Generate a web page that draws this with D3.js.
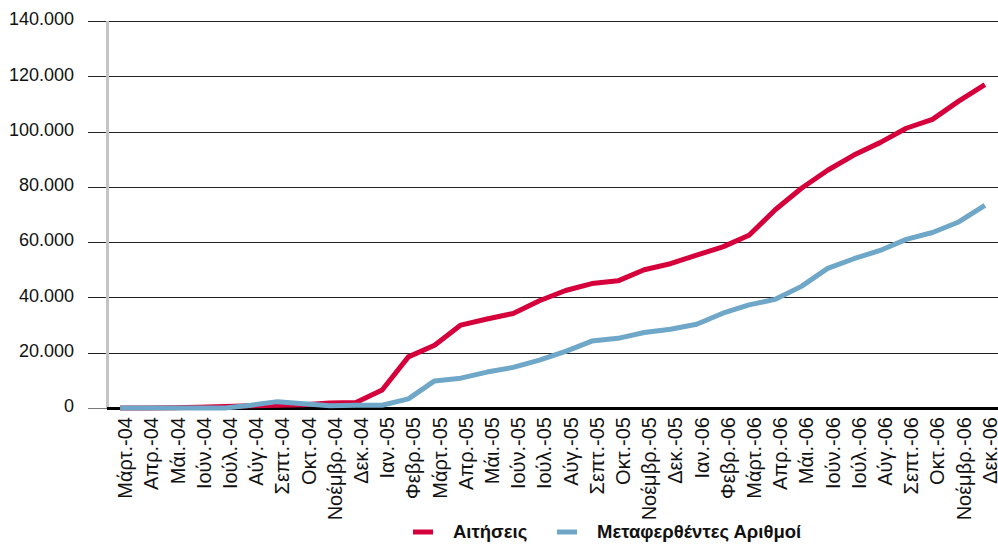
<!DOCTYPE html>
<html><head><meta charset="utf-8">
<script src="https://cdn.jsdelivr.net/npm/d3@7/dist/d3.min.js"></script>
<style>
html,body{margin:0;padding:0;background:#fff;}
svg text{font-family:"Liberation Sans Narrow","Arial Narrow","Liberation Sans",Arial,sans-serif;fill:#111;}
</style></head>
<body><svg id="c" width="998" height="547"></svg>
<script>
const categories = ["Μάρτ.-04","Απρ.-04","Μάι.-04","Ιούν.-04","Ιούλ.-04","Αύγ.-04","Σεπτ.-04","Οκτ.-04","Νοέμβρ.-04","Δεκ.-04",
"Ιαν.-05","Φεβρ.-05","Μάρτ.-05","Απρ.-05","Μάι.-05","Ιούν.-05","Ιούλ.-05","Αύγ.-05","Σεπτ.-05","Οκτ.-05","Νοέμβρ.-05","Δεκ.-05",
"Ιαν.-06","Φεβρ.-06","Μάρτ.-06","Απρ.-06","Μάι.-06","Ιούν.-06","Ιούλ.-06","Αύγ.-06","Σεπτ.-06","Οκτ.-06","Νοέμβρ.-06","Δεκ.-06"];
const requests = [0,0,100,300,500,800,1000,1200,1800,2000,
6500,18500,22700,30000,32200,34200,38800,42500,45000,46000,50000,52200,
55300,58300,62500,71700,79500,86000,91500,96000,101200,104400,111000,117000];
const transferred = [0,0,0,0,0,1000,2300,1500,800,1000,
1000,3300,9800,10800,13000,14700,17300,20500,24200,25200,27300,28500,
30300,34300,37300,39300,44000,50500,54000,57000,61000,63500,67300,73300];
const yTicks = [0,20000,40000,60000,80000,100000,120000,140000];
const tickLabels = ["0","20.000","40.000","60.000","80.000","100.000","120.000","140.000"];
const seriesNames = ["Αιτήσεις","Μεταφερθέντες Αριθμοί"];
const colors = ["#d5003b","#6fa7c8"];

const svg = d3.select("#c");
const x = d3.scaleBand().domain(categories).range([107, 998]);
const y = d3.scaleLinear().domain([0,140000]).range([408, 21]);
const cx = d => x(d) + x.bandwidth()/2;

// gridlines
svg.append("g").selectAll("line").data(yTicks).join("line")
  .attr("x1", 88).attr("x2", 998)
  .attr("y1", d => Math.round(y(d))+0.5).attr("y2", d => Math.round(y(d))+0.5)
  .attr("stroke", (d,i)=> i===0 ? "#777" : "#222").attr("stroke-width", 1);

// y tick labels
svg.append("g").selectAll("text").data(yTicks).join("text")
  .attr("x", 74).attr("y", d => y(d) - 2).attr("dy","0.35em")
  .attr("text-anchor","end")
  .style("font-family","'Liberation Sans',Arial,sans-serif")
  .style("font-size","18px")
  .text((d,i)=>tickLabels[i]);

// y axis line
svg.append("line").attr("x1",107.5).attr("x2",107.5).attr("y1",y(140000)).attr("y2",y(0))
  .attr("stroke","#c4c4c4").attr("stroke-width",3);

// baseline
svg.append("line").attr("x1",107).attr("x2",998).attr("y1",y(0)+0.5).attr("y2",y(0)+0.5)
  .attr("stroke","#000").attr("stroke-width",3);

// x labels
svg.append("g").selectAll("text").data(categories).join("text")
  .attr("transform", d => `translate(${cx(d)+5},${y(0)+9}) rotate(-90)`)
  .attr("dy","0.35em").attr("text-anchor","end")
  .style("font-size","20px")
  .text(d=>d);

// lines
const line = d3.line().x((d,i)=>cx(categories[i])).y(d=>y(d));
[requests, transferred].forEach((s,k)=>{
  svg.append("path").datum(s).attr("d", line).attr("fill","none")
    .attr("stroke", colors[k]).attr("stroke-width",5).attr("stroke-linejoin","round");
});

// legend
const leg = svg.append("g");
const legX = [413, 557];
seriesNames.forEach((n,k)=>{
  leg.append("line").attr("x1",legX[k]).attr("x2",legX[k]+20).attr("y1",532).attr("y2",532)
    .attr("stroke",colors[k]).attr("stroke-width",5);
  leg.append("text").attr("x",legX[k]+40).attr("y",532).attr("dy","0.35em")
    .style("font-size","18.5px").style("font-weight","bold").text(n);
});
</script></body></html>
